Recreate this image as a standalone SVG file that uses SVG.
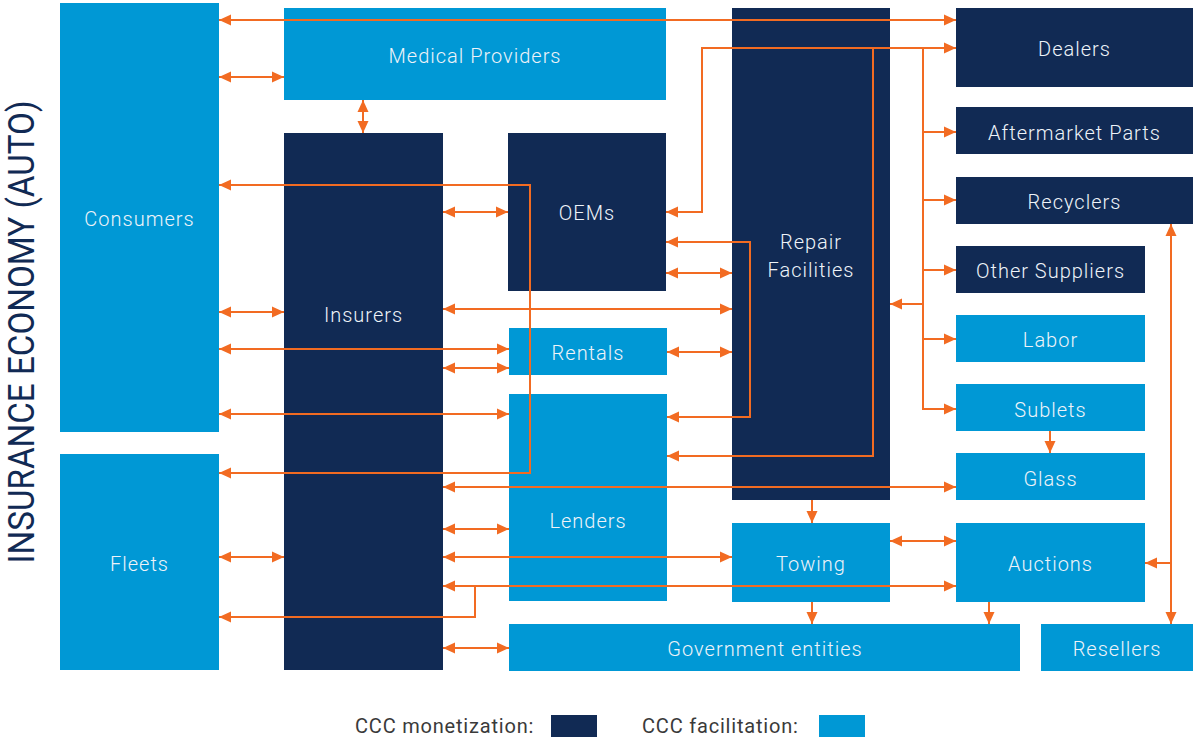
<svg xmlns="http://www.w3.org/2000/svg" width="1197" height="738" viewBox="0 0 1197 738">
<style>
.d{fill:#112A54}
.l{fill:#0098D5}
.t{font-family:Roboto,"Liberation Sans",sans-serif;font-size:20px;font-weight:300;fill:#EEF3F9;text-anchor:middle;dominant-baseline:central;letter-spacing:1px}
.c{fill:none;stroke:#F26B22;stroke-width:2}
.lg{font-family:Roboto,"Liberation Sans",sans-serif;font-size:20px;font-weight:400;fill:#3A3A3A;dominant-baseline:central;letter-spacing:0.8px}
</style>
<defs>
<marker id="a" markerUnits="userSpaceOnUse" markerWidth="12" markerHeight="12" refX="12" refY="6" orient="auto-start-reverse" viewBox="0 0 12 12">
<path d="M0,0.5 L12,6 L0,11.5 z" fill="#F26B22"/>
</marker>
</defs>
<rect width="1197" height="738" fill="#FFFFFF"/>
<text x="0" y="0" transform="translate(22,332) rotate(-90)" font-family="Roboto,'Liberation Sans',sans-serif" font-size="36" font-weight="400" fill="#112A54" text-anchor="middle" dominant-baseline="central" textLength="463" lengthAdjust="spacingAndGlyphs">INSURANCE ECONOMY (AUTO)</text>
<g id="consumers"><rect class="l" x="60" y="3" width="159" height="429"/><text class="t" x="139.5" y="219">Consumers</text></g>
<g id="fleets"><rect class="l" x="60" y="454" width="159" height="216"/><text class="t" x="139.5" y="564">Fleets</text></g>
<g id="medical"><rect class="l" x="284" y="8" width="382" height="92"/><text class="t" x="475" y="56">Medical Providers</text></g>
<g id="insurers"><rect class="d" x="284" y="133" width="159" height="537"/><text class="t" x="363.5" y="315">Insurers</text></g>
<g id="oems"><rect class="d" x="508" y="133" width="158" height="158"/><text class="t" x="587" y="213">OEMs</text></g>
<g id="rentals"><rect class="l" x="509" y="328" width="158" height="47"/><text class="t" x="588" y="353">Rentals</text></g>
<g id="lenders"><rect class="l" x="509" y="394" width="158" height="207"/><text class="t" x="588" y="521">Lenders</text></g>
<g id="repair"><rect class="d" x="732" y="8" width="158" height="492"/><text class="t" x="811" y="242">Repair</text><text class="t" x="811" y="270">Facilities</text></g>
<g id="towing"><rect class="l" x="732" y="523" width="158" height="79"/><text class="t" x="811" y="564">Towing</text></g>
<g id="government"><rect class="l" x="509" y="624" width="511" height="47"/><text class="t" x="765" y="649">Government entities</text></g>
<g id="dealers"><rect class="d" x="956" y="8" width="237" height="79"/><text class="t" x="1074.5" y="49">Dealers</text></g>
<g id="aftermarket"><rect class="d" x="956" y="107" width="237" height="47"/><text class="t" x="1074.5" y="133">Aftermarket Parts</text></g>
<g id="recyclers"><rect class="d" x="956" y="177" width="237" height="47"/><text class="t" x="1074.5" y="202">Recyclers</text></g>
<g id="other"><rect class="d" x="956" y="246" width="189" height="47"/><text class="t" x="1050.5" y="271">Other Suppliers</text></g>
<g id="labor"><rect class="l" x="956" y="315" width="189" height="47"/><text class="t" x="1050.5" y="340">Labor</text></g>
<g id="sublets"><rect class="l" x="956" y="384" width="189" height="47"/><text class="t" x="1050.5" y="410">Sublets</text></g>
<g id="glass"><rect class="l" x="956" y="453" width="189" height="47"/><text class="t" x="1050.5" y="479">Glass</text></g>
<g id="auctions"><rect class="l" x="956" y="523" width="189" height="79"/><text class="t" x="1050.5" y="564">Auctions</text></g>
<g id="resellers"><rect class="l" x="1041" y="624" width="152" height="47"/><text class="t" x="1117" y="649">Resellers</text></g>
<g id="connectors">
<path class="c" d="M219,20 H956" marker-start="url(#a)" marker-end="url(#a)"/>
<path class="c" d="M219,77 H284" marker-start="url(#a)" marker-end="url(#a)"/>
<path class="c" d="M363,100 V133" marker-start="url(#a)" marker-end="url(#a)"/>
<path class="c" d="M666,212 H702 V48 H956" marker-start="url(#a)" marker-end="url(#a)"/>
<path class="c" d="M873,48 V456 H667" marker-end="url(#a)"/>
<path class="c" d="M923,48 V409 H956" marker-end="url(#a)"/>
<path class="c" d="M923,132 H956" marker-end="url(#a)"/>
<path class="c" d="M923,200 H956" marker-end="url(#a)"/>
<path class="c" d="M923,270 H956" marker-end="url(#a)"/>
<path class="c" d="M923,339 H956" marker-end="url(#a)"/>
<path class="c" d="M923,304 H890" marker-end="url(#a)" stroke-width="3"/>
<path class="c" d="M219,185 H530 V473 H219" marker-start="url(#a)" marker-end="url(#a)"/>
<path class="c" d="M443,212 H508" marker-start="url(#a)" marker-end="url(#a)"/>
<path class="c" d="M666,242 H750 V417 H667" marker-start="url(#a)" marker-end="url(#a)"/>
<path class="c" d="M666,273 H732" marker-start="url(#a)" marker-end="url(#a)"/>
<path class="c" d="M443,309 H732" marker-start="url(#a)" marker-end="url(#a)"/>
<path class="c" d="M219,312 H284" marker-start="url(#a)" marker-end="url(#a)"/>
<path class="c" d="M219,349 H509" marker-start="url(#a)" marker-end="url(#a)"/>
<path class="c" d="M443,368 H509" marker-start="url(#a)" marker-end="url(#a)"/>
<path class="c" d="M667,352 H732" marker-start="url(#a)" marker-end="url(#a)"/>
<path class="c" d="M219,414 H509" marker-start="url(#a)" marker-end="url(#a)"/>
<path class="c" d="M443,487 H956" marker-start="url(#a)" marker-end="url(#a)"/>
<path class="c" d="M443,529 H509" marker-start="url(#a)" marker-end="url(#a)"/>
<path class="c" d="M219,557 H284" marker-start="url(#a)" marker-end="url(#a)"/>
<path class="c" d="M443,557 H732" marker-start="url(#a)" marker-end="url(#a)"/>
<path class="c" d="M443,586 H956" marker-start="url(#a)" marker-end="url(#a)"/>
<path class="c" d="M475,586 V617 H219" marker-end="url(#a)"/>
<path class="c" d="M443,648 H509" marker-start="url(#a)" marker-end="url(#a)"/>
<path class="c" d="M812,500 V523" marker-end="url(#a)"/>
<path class="c" d="M890,541 H956" marker-start="url(#a)" marker-end="url(#a)"/>
<path class="c" d="M812,602 V624" marker-end="url(#a)"/>
<path class="c" d="M989,602 V624" marker-end="url(#a)"/>
<path class="c" d="M1050,431 V453" marker-end="url(#a)"/>
<path class="c" d="M1171,224 V624" marker-start="url(#a)" marker-end="url(#a)"/>
<path class="c" d="M1171,563 H1145" marker-end="url(#a)"/>
</g>
<g id="legend">
<text class="lg" x="355" y="726">CCC monetization:</text>
<rect class="d" x="551" y="715" width="46" height="22"/>
<text class="lg" x="642" y="726">CCC facilitation:</text>
<rect class="l" x="819" y="715" width="46" height="22"/>
</g>
</svg>
